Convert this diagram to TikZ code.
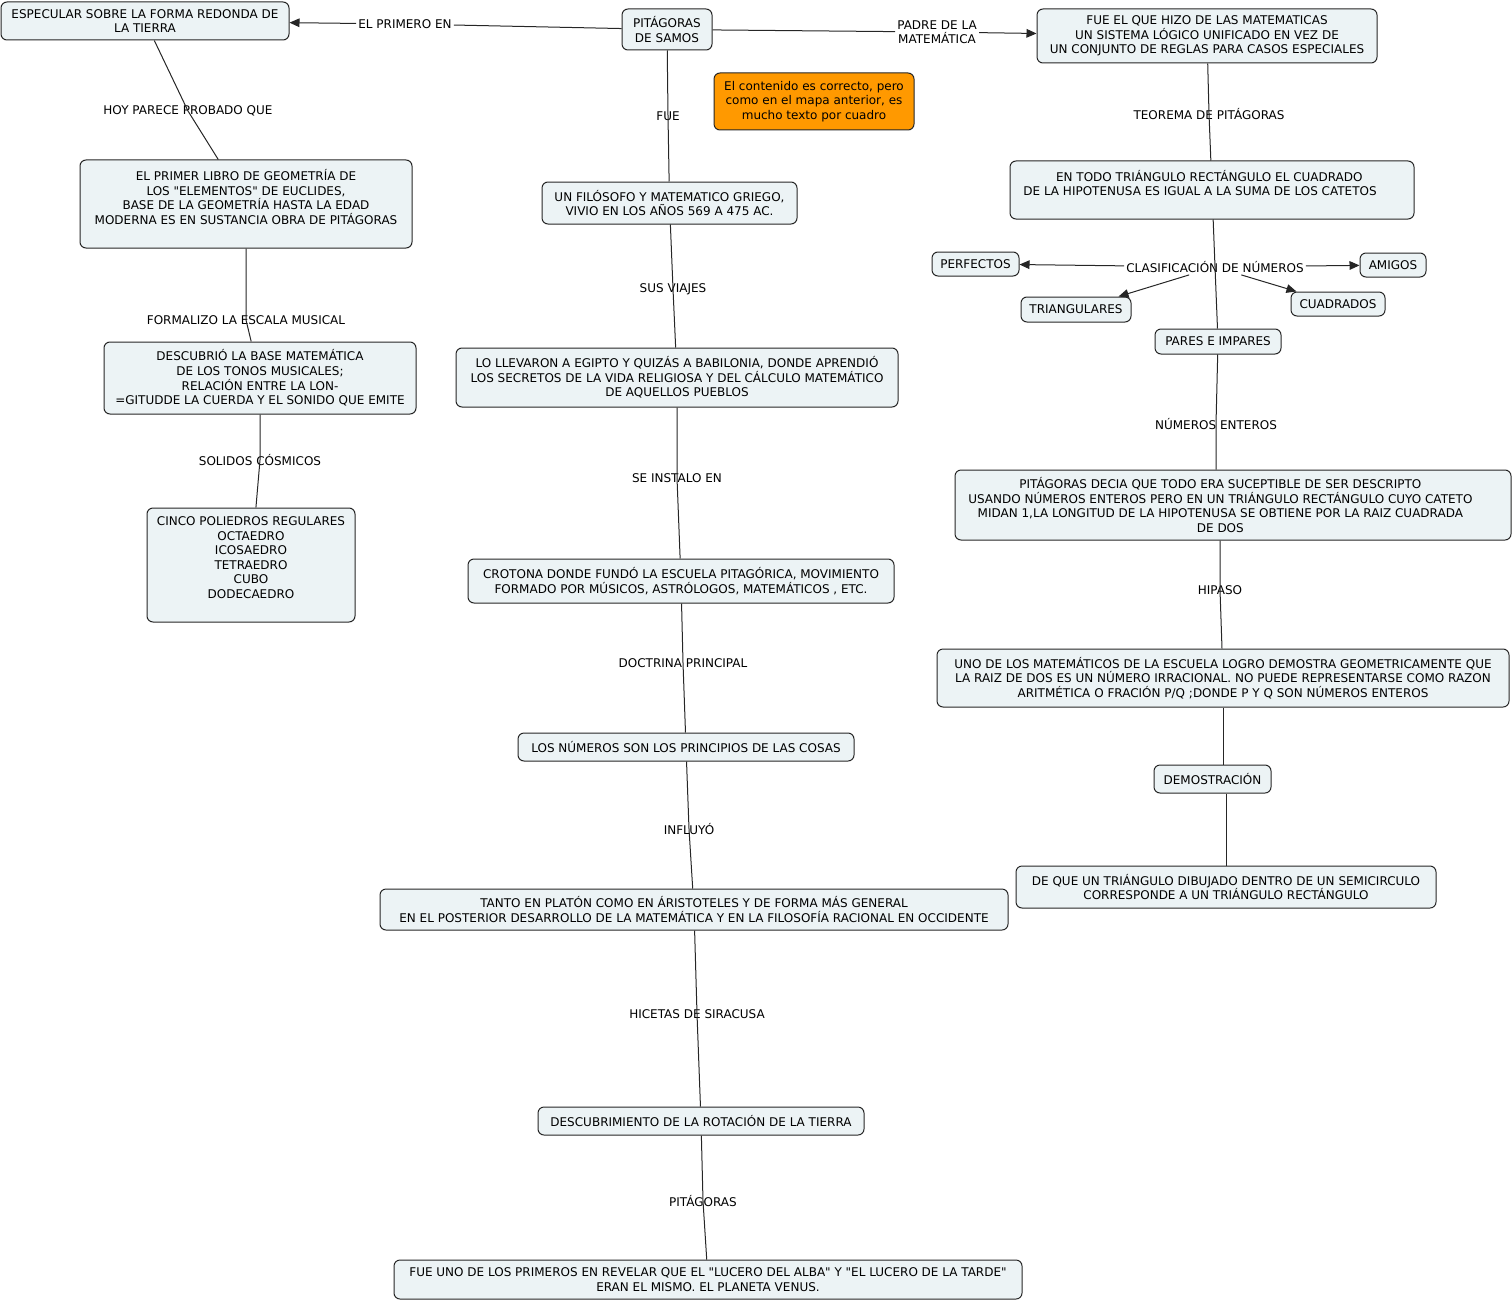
\documentclass[tikz,border=0pt]{standalone}
\usepackage{fontspec}
\setmainfont{DejaVu Sans}
\usetikzlibrary{arrows.meta}
\definecolor{cfill}{RGB}{236,243,245}
\definecolor{ofill}{RGB}{255,153,0}
\newcommand\conceptbox[7][]{\node[concept,#1,minimum width={(#5-#3)*0.75pt},minimum height={(#6-#4)*0.75pt}] (#2) at ({(#3+#5)/2},{(#4+#6)/2}) {#7};}
\newcommand\padr[1]{\rule{#1}{0pt}}
\begin{document}
\begin{tikzpicture}[x=0.75pt,y=-0.75pt,
  every node/.style={font=\fontsize{9}{10.9}\selectfont, text=black},
  concept/.style={draw=black!85, fill=cfill, rounded corners=4.5pt, inner sep=0pt, align=center, line width=0.75pt},
  lph/.style={inner sep=1.5pt, align=center},
  conn/.style={line width=0.75pt, draw=black!85},
  arr/.style={conn, -{Triangle[length=7.5pt,width=6.5pt]}}]
\useasboundingbox (0,0) rectangle (1512,1302);

% concepts
\conceptbox{esp}{1}{2}{289}{40}{ESPECULAR SOBRE LA FORMA REDONDA DE\\LA TIERRA}
\conceptbox{pit}{622}{9}{712}{50}{PITÁGORAS\\DE SAMOS}
\conceptbox{fue1}{1037}{9}{1377}{63}{FUE EL QUE HIZO DE LAS MATEMATICAS\\UN SISTEMA LÓGICO UNIFICADO EN VEZ DE\\UN CONJUNTO DE REGLAS PARA CASOS ESPECIALES}
\conceptbox[fill=ofill]{note}{714}{73}{914}{130}{El contenido es correcto, pero\\como en el mapa anterior, es\\mucho texto por cuadro}
\conceptbox{libro}{80}{160}{412}{248}{EL PRIMER LIBRO DE GEOMETRÍA DE\\LOS \textquotedbl ELEMENTOS\textquotedbl\ DE EUCLIDES,\\BASE DE LA GEOMETRÍA HASTA LA EDAD\\MODERNA ES EN SUSTANCIA OBRA DE PITÁGORAS\\\mbox{}}
\conceptbox{filo}{542}{182}{797}{224}{UN FILÓSOFO Y MATEMATICO GRIEGO,\\VIVIO EN LOS AÑOS 569 A 475 AC.}
\conceptbox{egip}{456}{348}{898}{407}{LO LLEVARON A EGIPTO Y QUIZÁS A BABILONIA, DONDE APRENDIÓ\\LOS SECRETOS DE LA VIDA RELIGIOSA Y DEL CÁLCULO MATEMÁTICO\\DE AQUELLOS PUEBLOS}
\conceptbox{tonos}{104}{342}{416}{414}{DESCUBRIÓ LA BASE MATEMÁTICA\\DE LOS TONOS MUSICALES;\\RELACIÓN ENTRE LA LON-\\=GITUDDE LA CUERDA Y EL SONIDO QUE EMITE}
\conceptbox{cinco}{147}{508}{355}{622}{CINCO POLIEDROS REGULARES\\OCTAEDRO\\ICOSAEDRO\\TETRAEDRO\\CUBO\\DODECAEDRO\\\mbox{}}
\conceptbox{todo}{1010}{161}{1414}{219}{EN TODO TRIÁNGULO RECTÁNGULO EL CUADRADO\padr{4pt}\\DE LA HIPOTENUSA ES IGUAL A LA SUMA DE LOS CATETOS\padr{18pt}\\\mbox{}}
\conceptbox{perf}{932}{252}{1019}{276}{PERFECTOS}
\conceptbox{amig}{1360}{253}{1426}{277}{AMIGOS}
\conceptbox{tria}{1021}{297}{1131}{322}{TRIANGULARES}
\conceptbox{cuad}{1291}{292}{1385}{316}{CUADRADOS}
\conceptbox{pares}{1155}{329}{1281}{354}{PARES E IMPARES}
\conceptbox{decia}{955}{470}{1511}{540}{PITÁGORAS DECIA QUE TODO ERA SUCEPTIBLE DE SER DESCRIPTO\padr{19pt}\\USANDO NÚMEROS ENTEROS PERO EN UN TRIÁNGULO RECTÁNGULO CUYO CATETO\padr{19pt}\\MIDAN 1,LA LONGITUD DE LA HIPOTENUSA SE OBTIENE POR LA RAIZ CUADRADA\padr{19pt}\\DE DOS\padr{19pt}}
\conceptbox{uno}{937}{649}{1509}{707}{UNO DE LOS MATEMÁTICOS DE LA ESCUELA LOGRO DEMOSTRA GEOMETRICAMENTE QUE\\LA RAIZ DE DOS ES UN NÚMERO IRRACIONAL. NO PUEDE REPRESENTARSE COMO RAZON\\ARITMÉTICA O FRACIÓN P/Q ;DONDE P Y Q SON NÚMEROS ENTEROS}
\conceptbox{demo}{1154}{765}{1271}{793}{DEMOSTRACIÓN}
\conceptbox{dequ}{1016}{866}{1436}{908}{DE QUE UN TRIÁNGULO DIBUJADO DENTRO DE UN SEMICIRCULO\\CORRESPONDE A UN TRIÁNGULO RECTÁNGULO}
\conceptbox{crot}{468}{559}{894}{603}{CROTONA DONDE FUNDÓ LA ESCUELA PITAGÓRICA, MOVIMIENTO\\FORMADO POR MÚSICOS, ASTRÓLOGOS, MATEMÁTICOS , ETC.}
\conceptbox{losn}{518}{733}{854}{761}{LOS NÚMEROS SON LOS PRINCIPIOS DE LAS COSAS}
\conceptbox{tanto}{380}{889}{1008}{930}{TANTO EN PLATÓN COMO EN ÁRISTOTELES Y DE FORMA MÁS GENERAL\\EN EL POSTERIOR DESARROLLO DE LA MATEMÁTICA Y EN LA FILOSOFÍA RACIONAL EN OCCIDENTE}
\conceptbox{desc}{538}{1107}{864}{1135}{DESCUBRIMIENTO DE LA ROTACIÓN DE LA TIERRA}
\conceptbox{fueuno}{394}{1260}{1022}{1299}{FUE UNO DE LOS PRIMEROS EN REVELAR QUE EL \textquotedbl LUCERO DEL ALBA\textquotedbl\ Y \textquotedbl EL LUCERO DE LA TARDE\textquotedbl\\ERAN EL MISMO. EL PLANETA VENUS.}

% linking phrases
\node[lph] (lprim) at (405,24) {EL PRIMERO EN};
\node[lph] (lpadre) at (937,32) {PADRE DE LA\\MATEMÁTICA};
\node[lph] (lfue) at (668,116) {FUE};
\node[lph] (lhoy) at (188,111) {HOY PARECE PROBADO QUE};
\node[lph] (lteo) at (1209,114) {TEOREMA DE PITÁGORAS};
\node[lph] (lsus) at (673,289) {SUS VIAJES};
\node[lph] (lform) at (246,320) {FORMALIZO LA ESCALA MUSICAL};
\node[lph] (lcla) at (1215,267) {CLASIFICACIÓN DE NÚMEROS};
\node[lph] (lnum) at (1216,424) {NÚMEROS ENTEROS};
\node[lph] (lsol) at (260,460) {SOLIDOS CÓSMICOS};
\node[lph] (lins) at (677,478) {SE INSTALO EN};
\node[lph] (lhip) at (1220,590) {HIPASO};
\node[lph] (ldoc) at (683,663) {DOCTRINA PRINCIPAL};
\node[lph] (linf) at (689,829) {INFLUYÓ};
\node[lph] (lhic) at (697,1014) {HICETAS DE SIRACUSA};
\node[lph] (lpit) at (703,1201) {PITÁGORAS};

% connectors
\draw[conn] (pit) -- (lprim);
\draw[arr] (lprim) -- (esp);
\draw[conn] (pit) -- (lpadre);
\draw[arr] (lpadre) -- (fue1);
\draw[conn] (pit) -- (lfue.center) -- (filo);
\draw[conn] (esp) -- (lhoy.center) -- (libro);
\draw[conn] (fue1) -- (lteo.center) -- (todo);
\draw[conn] (filo) -- (lsus.center) -- (egip);
\draw[conn] (libro) -- (lform.center) -- (tonos);
\draw[conn] (todo) -- (lcla.center) -- (pares);
\draw[arr] (lcla) -- (perf);
\draw[arr] (lcla) -- (amig);
\draw[arr] (lcla) -- (tria);
\draw[arr] (lcla) -- (cuad);
\draw[conn] (pares) -- (lnum.center) -- (decia.north -| lnum.center);
\draw[conn] (tonos) -- (lsol.center) -- (cinco);
\draw[conn] (egip) -- (lins.center) -- (crot);
\draw[conn] (decia.south -| lhip.center) -- (lhip.center) -- (uno);
\draw[conn] (uno.south) -- (uno.south |- demo.north);
\draw[conn] (dequ.north |- demo.south) -- (dequ.north);
\draw[conn] (crot) -- (ldoc.center) -- (losn);
\draw[conn] (losn) -- (linf.center) -- (tanto);
\draw[conn] (tanto) -- (lhic.center) -- (desc);
\draw[conn] (desc) -- (lpit.center) -- (fueuno);
\end{tikzpicture}
\end{document}
